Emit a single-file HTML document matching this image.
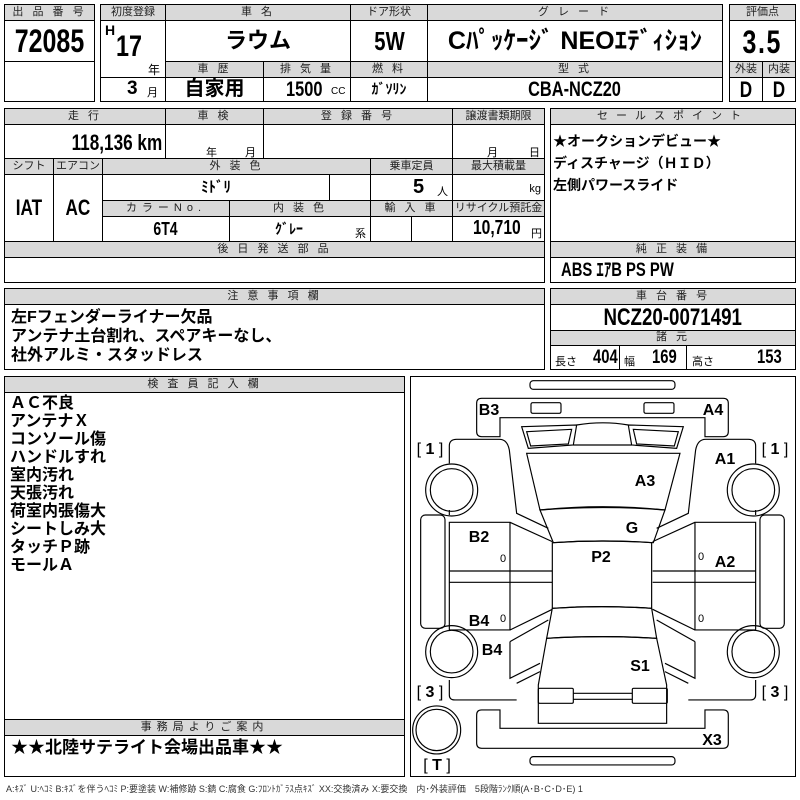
<!DOCTYPE html>
<html><head><meta charset="utf-8">
<style>
*{margin:0;padding:0;box-sizing:border-box}
body{width:800px;height:800px;background:#fff;position:relative;overflow:hidden;font-family:"Liberation Sans","Noto Sans CJK JP",sans-serif;color:#000}
.h,.v,.b{position:absolute;border:1px solid #000}
.h{background:#d9d9d9;font-size:11px;line-height:14px;text-align:center;letter-spacing:3px;color:#222}
.v{background:#fff;text-align:center}
.n{font-family:"Liberation Sans","Noto Sans CJK JP",sans-serif;font-weight:bold}
.t{position:absolute;white-space:nowrap}
.j{font-family:"Liberation Sans","Noto Sans CJK JP",sans-serif;font-weight:bold}
.c{display:inline-block;transform:scaleX(.78);transform-origin:center}
.cl{transform-origin:left}
.cr{transform-origin:right}
</style></head><body>
<!-- box1 -->
<div class="h" style="left:4px;top:4px;width:91px;height:17px">出 品 番 号</div>
<div class="v n" style="left:4px;top:20px;width:91px;height:42px;font-size:32px;line-height:40px"><span class="c">72085</span></div>
<div class="v" style="left:4px;top:61px;width:91px;height:41px"></div>
<!-- box2 -->
<div class="h" style="left:100px;top:4px;width:66px;height:17px;letter-spacing:0">初度登録</div>
<div class="h" style="left:165px;top:4px;width:186px;height:17px">車 名</div>
<div class="h" style="left:350px;top:4px;width:78px;height:17px;letter-spacing:0">ドア形状</div>
<div class="h" style="left:427px;top:4px;width:296px;height:17px">グ レ ー ド</div>
<div class="v" style="left:100px;top:20px;width:66px;height:58px"></div>
<div class="t n" style="left:105px;top:22px;font-size:14px">H</div>
<div class="t n" style="left:116px;top:30px;font-size:30px"><span class="c cl">17</span></div>
<div class="t" style="left:148px;top:61px;font-size:12px">年</div>
<div class="v j" style="left:165px;top:20px;width:186px;height:42px;font-size:22px;line-height:40px">ラウム</div>
<div class="v n" style="left:350px;top:20px;width:78px;height:42px;font-size:26px;line-height:40px"><span class="c">5W</span></div>
<div class="v j" style="left:427px;top:20px;width:296px;height:42px;font-size:25px;line-height:40px">Cﾊﾟｯｹｰｼﾞ NEOｴﾃﾞｨｼｮﾝ</div>
<div class="h" style="left:165px;top:61px;width:99px;height:17px">車 歴</div>
<div class="h" style="left:263px;top:61px;width:88px;height:17px">排 気 量</div>
<div class="h" style="left:350px;top:61px;width:78px;height:17px">燃 料</div>
<div class="h" style="left:427px;top:61px;width:296px;height:17px">型 式</div>
<div class="v" style="left:100px;top:77px;width:66px;height:25px"><span class="t n" style="left:26px;top:0;font-size:19px">3</span><span class="t" style="left:46px;top:6px;font-size:11px">月</span></div>
<div class="v j" style="left:165px;top:77px;width:99px;height:25px;font-size:20px;line-height:22px">自家用</div>
<div class="v" style="left:263px;top:77px;width:88px;height:25px"><span class="t n" style="left:22px;top:0;font-size:21px"><span class="c cl">1500</span></span><span class="t" style="left:67px;top:8px;font-size:10px">CC</span></div>
<div class="v j" style="left:350px;top:77px;width:78px;height:25px;font-size:14px;line-height:23px">ｶﾞｿﾘﾝ</div>
<div class="v n" style="left:427px;top:77px;width:296px;height:25px;font-size:21px;line-height:23px"><span class="c">CBA-NCZ20</span></div>
<!-- box3 -->
<div class="h" style="left:729px;top:4px;width:67px;height:17px;letter-spacing:0">評価点</div>
<div class="v n" style="left:729px;top:20px;width:67px;height:42px;font-size:32px;line-height:42px;letter-spacing:2px"><span class="c">3.5</span></div>
<div class="h" style="left:729px;top:61px;width:34px;height:17px;letter-spacing:0">外装</div>
<div class="h" style="left:762px;top:61px;width:34px;height:17px;letter-spacing:0">内装</div>
<div class="v n" style="left:729px;top:77px;width:34px;height:25px;font-size:22px;line-height:23px"><span class="c">D</span></div>
<div class="v n" style="left:762px;top:77px;width:34px;height:25px;font-size:22px;line-height:23px"><span class="c">D</span></div>
<!-- block2 -->
<div class="h" style="left:4px;top:108px;width:162px;height:17px">走 行</div>
<div class="h" style="left:165px;top:108px;width:99px;height:17px">車 検</div>
<div class="h" style="left:263px;top:108px;width:190px;height:17px">登 録 番 号</div>
<div class="h" style="left:452px;top:108px;width:93px;height:17px;letter-spacing:0">譲渡書類期限</div>
<div class="v n" style="left:4px;top:124px;width:162px;height:35px;font-size:22px;line-height:36px;text-align:right;padding-right:3px"><span class="c cr">118,136 km</span></div>
<div class="v" style="left:165px;top:124px;width:99px;height:35px"><span class="t" style="left:40px;top:19px;font-size:11px">年</span><span class="t" style="left:79px;top:19px;font-size:11px">月</span></div>
<div class="v" style="left:263px;top:124px;width:190px;height:35px"></div>
<div class="v" style="left:452px;top:124px;width:93px;height:35px"><span class="t" style="left:34px;top:19px;font-size:11px">月</span><span class="t" style="left:76px;top:19px;font-size:11px">日</span></div>
<div class="h" style="left:4px;top:158px;width:50px;height:17px;letter-spacing:0">シフト</div>
<div class="h" style="left:53px;top:158px;width:50px;height:17px;letter-spacing:0">エアコン</div>
<div class="h" style="left:102px;top:158px;width:269px;height:17px">外 装 色</div>
<div class="h" style="left:370px;top:158px;width:83px;height:17px;letter-spacing:0">乗車定員</div>
<div class="h" style="left:452px;top:158px;width:93px;height:17px;letter-spacing:0">最大積載量</div>
<div class="v n" style="left:4px;top:174px;width:50px;height:68px;font-size:22px;line-height:66px"><span class="c">IAT</span></div>
<div class="v n" style="left:53px;top:174px;width:50px;height:68px;font-size:22px;line-height:66px"><span class="c">AC</span></div>
<div class="v j" style="left:102px;top:174px;width:228px;height:27px;font-size:15px;line-height:25px">ﾐﾄﾞﾘ</div>
<div class="v" style="left:329px;top:174px;width:42px;height:27px"></div>
<div class="v" style="left:370px;top:174px;width:83px;height:27px"><span class="t n" style="left:42px;top:1px;font-size:20px">5</span><span class="t" style="left:66px;top:8px;font-size:11px">人</span></div>
<div class="v" style="left:452px;top:174px;width:93px;height:27px"><span class="t" style="right:3px;top:8px;font-size:11px">kg</span></div>
<div class="h" style="left:102px;top:200px;width:128px;height:17px;letter-spacing:5px">カラーNo.</div>
<div class="h" style="left:229px;top:200px;width:142px;height:17px">内 装 色</div>
<div class="h" style="left:370px;top:200px;width:83px;height:17px">輸 入 車</div>
<div class="h" style="left:452px;top:200px;width:93px;height:17px;letter-spacing:0">リサイクル預託金</div>
<div class="v n" style="left:102px;top:216px;width:128px;height:26px;font-size:18px;line-height:24px"><span class="c">6T4</span></div>
<div class="v" style="left:229px;top:216px;width:142px;height:26px"><span class="t j" style="left:45px;top:2px;font-size:14px">ｸﾞﾚｰ</span><span class="t" style="left:125px;top:8px;font-size:11px">系</span></div>
<div class="v" style="left:370px;top:216px;width:42px;height:26px"></div>
<div class="v" style="left:411px;top:216px;width:42px;height:26px"></div>
<div class="v" style="left:452px;top:216px;width:93px;height:26px"><span class="t n" style="left:20px;top:0px;font-size:20px"><span class="c cl">10,710</span></span><span class="t" style="left:78px;top:8px;font-size:11px">円</span></div>
<div class="h" style="left:4px;top:241px;width:541px;height:17px">後 日 発 送 部 品</div>
<div class="v" style="left:4px;top:257px;width:541px;height:26px"></div>
<!-- sales -->
<div class="h" style="left:550px;top:108px;width:246px;height:17px;letter-spacing:8px">セールスポイント</div>
<div class="v" style="left:550px;top:124px;width:246px;height:118px;text-align:left;padding:5px 0 0 2px;font-size:14px;line-height:22px;font-weight:bold">★オークションデビュー★<br>ディスチャージ（ＨＩＤ）<br>左側パワースライド</div>
<div class="h" style="left:550px;top:241px;width:246px;height:17px">純 正 装 備</div>
<div class="v n" style="left:550px;top:257px;width:246px;height:26px;text-align:left;padding-left:10px;font-size:19px;line-height:25px"><span class="c cl">ABS ｴｱB PS PW</span></div>
<!-- notes -->
<div class="h" style="left:4px;top:288px;width:541px;height:17px">注 意 事 項 欄</div>
<div class="v j" style="left:4px;top:304px;width:541px;height:66px;text-align:left;padding:3px 0 0 6px;font-size:16px;line-height:19px">左Fフェンダーライナー欠品<br>アンテナ土台割れ、スペアキーなし、<br>社外アルミ・スタッドレス</div>
<div class="h" style="left:550px;top:288px;width:246px;height:17px">車 台 番 号</div>
<div class="v n" style="left:550px;top:304px;width:246px;height:27px;font-size:24px;line-height:26px"><span class="c">NCZ20-0071491</span></div>
<div class="h" style="left:550px;top:330px;width:246px;height:16px;line-height:13px">諸 元</div>
<div class="v" style="left:550px;top:345px;width:70px;height:25px"><span class="t" style="left:4px;top:7px;font-size:11px">長さ</span><span class="t n" style="left:42px;top:1px;font-size:19px"><span class="c cl">404</span></span></div>
<div class="v" style="left:619px;top:345px;width:68px;height:25px"><span class="t" style="left:4px;top:7px;font-size:11px">幅</span><span class="t n" style="left:32px;top:1px;font-size:19px"><span class="c cl">169</span></span></div>
<div class="v" style="left:686px;top:345px;width:110px;height:25px"><span class="t" style="left:5px;top:7px;font-size:11px">高さ</span><span class="t n" style="left:70px;top:1px;font-size:19px"><span class="c cl">153</span></span></div>
<!-- inspector -->
<div class="h" style="left:4px;top:376px;width:401px;height:17px">検 査 員 記 入 欄</div>
<div class="v j" style="left:4px;top:392px;width:401px;height:328px;text-align:left;padding:2px 0 0 5px;font-size:16px;line-height:18px">ＡＣ不良<br>アンテナＸ<br>コンソール傷<br>ハンドルすれ<br>室内汚れ<br>天張汚れ<br>荷室内張傷大<br>シートしみ大<br>タッチＰ跡<br>モールＡ</div>
<div class="h" style="left:4px;top:719px;width:401px;height:17px;letter-spacing:5px">事務局よりご案内</div>
<div class="v j" style="left:4px;top:735px;width:401px;height:42px;text-align:left;padding:1px 0 0 6px;font-size:17px;line-height:22px">★★北陸サテライト会場出品車★★</div>
<div class="t" style="left:6px;top:782px;font-size:9px;color:#333">A:ｷｽﾞ U:ﾍｺﾐ B:ｷｽﾞを伴うﾍｺﾐ P:要塗装 W:補修跡 S:錆 C:腐食 G:ﾌﾛﾝﾄｶﾞﾗｽ点ｷｽﾞ XX:交換済み X:要交換　内･外装評価　5段階ﾗﾝｸ順(A･B･C･D･E) 1</div>
<!-- diagram -->
<div class="b" style="left:410px;top:376px;width:386px;height:401px"></div>
<svg style="position:absolute;left:0;top:0" width="800" height="800">
<g transform="translate(400,370) scale(0.3333)" fill="none" stroke="#000" stroke-width="3.5">
<rect x="390" y="32" width="435" height="26" rx="10"/>
<rect x="390" y="1160" width="435" height="25" rx="10"/>
<path d="M245,85 L970,85 Q985,85 985,100 L985,185 Q985,200 970,200 L915,200 L915,143 L300,143 L300,200 L245,200 Q230,200 230,185 L230,100 Q230,85 245,85 Z"/>
<path d="M245,1020 L300,1020 L300,1075 L915,1075 L915,1020 L970,1020 Q985,1020 985,1035 L985,1120 Q985,1135 970,1135 L245,1135 Q230,1135 230,1120 L230,1035 Q230,1020 245,1020 Z"/>
<path d="M380,250 L840,250 L795,420 Q610,400 420,420 Z"/>
<path d="M420,420 Q610,405 795,420 L760,518 Q610,508 460,518 Z"/>
<path d="M457,518 Q605,508 755,518 L755,715 Q605,705 457,715 Z"/>
<path d="M457,715 Q605,705 755,715 L770,805 Q610,795 440,805 Z"/>
<path d="M440,805 Q610,795 770,805 L800,945 L800,1060 L415,1060 L415,945 Z"/>
<rect x="415" y="955" width="105" height="45" rx="4"/>
<rect x="697" y="955" width="105" height="45" rx="4"/>
<path d="M520,970 L697,970 M520,988 L697,988"/>
<path d="M530,165 Q610,152 685,165 M520,225 L695,225"/>
<g id="half">
<rect x="393" y="98" width="90" height="32" rx="5"/>
<path d="M365,170 L530,165 L520,225 L385,235 Z M380,185 L515,178 L505,222 L392,228 Z"/>
<path d="M148,280 L148,228 Q148,208 170,208 L298,208 Q322,208 328,240 L350,430 L445,475"/>
<path d="M148,420 L148,435 M148,457 L330,457 L330,780 L148,780 Z M148,603 L457,603 M148,637 L457,637 M330,457 L457,515 M330,780 L457,718"/>
<path d="M330,815 L445,750 M330,815 L330,925 L420,880 M350,940 L420,905 M148,930 L148,975 Q148,990 165,990 L350,990"/>
<rect x="62" y="435" width="73" height="340" rx="14"/>
<circle cx="155" cy="360" r="78"/><circle cx="155" cy="360" r="64"/>
<circle cx="155" cy="845" r="78"/><circle cx="155" cy="845" r="64"/>
</g>
<use href="#half" transform="translate(1215,0) scale(-1,1)"/>
<circle cx="110" cy="1080" r="72"/><circle cx="110" cy="1080" r="62"/>
</g>
<g font-family="Liberation Sans, sans-serif" font-weight="bold" font-size="16" text-anchor="middle">
<text x="489" y="415">B3</text><text x="713" y="415">A4</text>
<text x="725" y="464">A1</text><text x="645" y="486">A3</text>
<text x="632" y="533">G</text><text x="479" y="542">B2</text>
<text x="601" y="562">P2</text><text x="725" y="567">A2</text>
<text x="479" y="626">B4</text><text x="492" y="655">B4</text>
<text x="640" y="671">S1</text><text x="712" y="745">X3</text>
</g>
<g font-family="Liberation Sans, sans-serif" font-size="16" text-anchor="middle">
<text x="430" y="454">[ <tspan font-weight="bold">1</tspan> ]</text>
<text x="775" y="454">[ <tspan font-weight="bold">1</tspan> ]</text>
<text x="430" y="697">[ <tspan font-weight="bold">3</tspan> ]</text>
<text x="775" y="697">[ <tspan font-weight="bold">3</tspan> ]</text>
<text x="437" y="770">[ <tspan font-weight="bold">T</tspan> ]</text>
</g>
<g font-family="Liberation Sans, sans-serif" font-size="11" text-anchor="middle">
<text x="503" y="562">0</text><text x="503" y="622">0</text>
<text x="701" y="560">0</text><text x="701" y="622">0</text>
</g>
</svg>
</body></html>
